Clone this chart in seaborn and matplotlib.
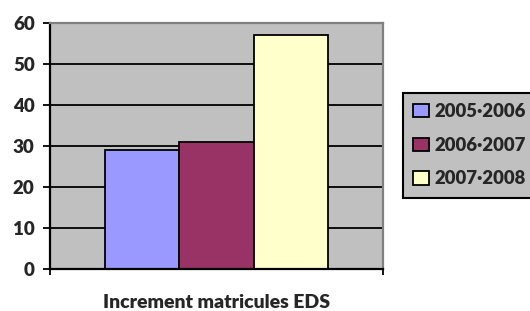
import seaborn as sns
import matplotlib.pyplot as plt
import pandas as pd

# Data
periods = ["2005·2006", "2006·2007", "2007·2008"]
values = [29, 31, 57]
colors = ["#9999FF", "#993366", "#FFFFCC"]
group = "Increment matricules EDS"
y_ticks = [0, 10, 20, 30, 40, 50, 60]

df = pd.DataFrame({"group": [group] * len(periods), "period": periods, "value": values})

sns.set_theme(style="white", rc={"axes.facecolor": "#C0C0C0"})
plt.rcParams["font.family"] = ["Lato", "DejaVu Sans"]
plt.rcParams["font.weight"] = "bold"

fig = plt.figure(figsize=(5.3, 3.11), dpi=100)
ax = fig.add_axes([50 / 530, 1 - 269 / 311, 333 / 530, 246 / 311])

sns.barplot(data=df, x="group", y="value", hue="period", palette=colors,
            saturation=1, width=0.667, gap=0, edgecolor="black",
            linewidth=1.3, ax=ax)

ax.set_xlim(-0.5, 0.5)
ax.set_ylim(0, 60)
ax.set_yticks(y_ticks)
ax.set_yticklabels([str(t) for t in y_ticks], fontsize=13.5, fontweight="heavy")
ax.set_xticks([-0.5, 0.5])
ax.set_xticklabels(["", ""])
ax.set_xlabel("")
ax.set_ylabel("")

ax.yaxis.grid(True, color="black", linewidth=1.3)
ax.set_axisbelow(True)

for side in ["left", "bottom"]:
    ax.spines[side].set_color("black")
    ax.spines[side].set_linewidth(1.6)
for side in ["top", "right"]:
    ax.spines[side].set_color("#808080")
    ax.spines[side].set_linewidth(1.6)

ax.tick_params(axis="y", direction="out", length=5, width=1.3, color="black",
               pad=6, left=True)
ax.tick_params(axis="x", direction="out", length=4.5, width=1.3, color="black",
               bottom=True)

fig.text(216.5 / 530, 1 - 303 / 311, group, ha="center", va="center",
         fontsize=14, fontweight="heavy")

handles, labels = ax.get_legend_handles_labels()
ax.legend_.remove()
leg = fig.legend(handles, labels, loc="upper left",
                 bbox_to_anchor=(403 / 530, 1 - 93 / 311),
                 frameon=True, fancybox=False, edgecolor="black", framealpha=1,
                 prop={"size": 13.3, "weight": "heavy"},
                 handlelength=0.85, handleheight=0.75, handletextpad=0.3,
                 labelspacing=0.9, borderpad=0.55, borderaxespad=0)
leg.get_frame().set_linewidth(1.5)

fig.savefig("out.png", dpi=100)
